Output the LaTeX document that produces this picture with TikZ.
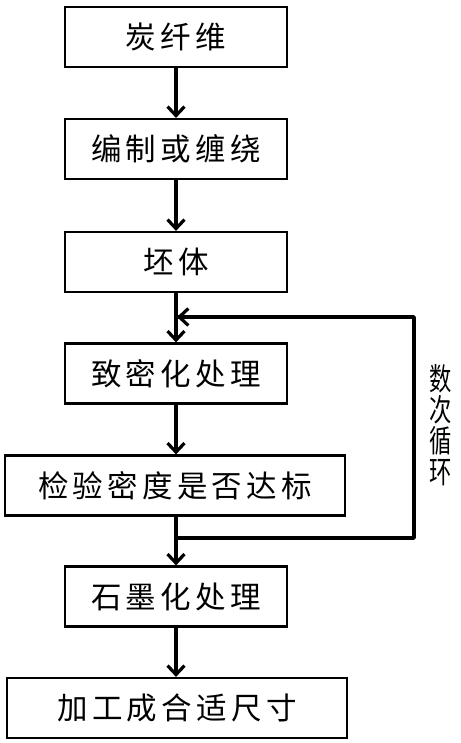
\documentclass[tikz,border=0pt]{standalone}
\usepackage{fontspec}
\usepackage{graphicx}
\newfontfamily\cjk[LetterSpace=14]{Noto Sans CJK SC}
\newfontfamily\cjkv{Noto Sans CJK SC}
\usetikzlibrary{arrows.meta}
\begin{document}
\begin{tikzpicture}[x=1pt,y=1pt,
  box/.style={draw=black,line width=2.2pt,minimum height=60pt,inner sep=0pt,
    font=\cjk\fontsize{30.5}{33}\selectfont},
  narrow/.style={box,minimum width=222pt},
  wide/.style={box,minimum width=340pt},
  flow/.style={line width=3.5pt,-{Straight Barb[length=9pt,width=17pt,line width=3.2pt]}},
  loop/.style={line width=3.5pt,line join=round}]
\useasboundingbox (0,0) rectangle (460,-743);
\node[narrow] (b1) at (176,-37) {炭纤维};
\node[narrow] (b2) at (176,-149) {编制或缠绕};
\node[narrow] (b3) at (176,-262) {坯体};
\node[narrow] (b4) at (176,-373.5) {致密化处理};
\node[wide] (b5) at (175,-485.5) {检验密度是否达标};
\node[narrow] (b6) at (176,-596.5) {石墨化处理};
\node[wide] (b7) at (177,-708) {加工成合适尺寸};
\coordinate (lb) at (176,-538);
\coordinate (lbr) at (414,-538);
\coordinate (ltr) at (414,-317);
\coordinate (ltl) at (177,-317);
\draw[flow] (b1.south) -- (b2.north);
\draw[flow] (b2.south) -- (b3.north);
\draw[flow] (b3.south) -- (b4.north -| b3.south);
\draw[flow] (b4.south) -- (b5.north -| b4.south);
\draw[flow] (b5.south -| b6.north) -- (b6.north);
\draw[flow] (b6.south) -- (b7.north -| b6.south);
\draw[loop] (lb) -- (lbr) -- (ltr) -- (ltl);
\draw[flow] (ltr) -- (ltl);
\node[font=\cjkv\fontsize{31}{31}\selectfont,align=center,inner sep=0pt] (lab) at (441,-425)
  {\scalebox{0.72}[1]{数}\\\scalebox{0.72}[1]{次}\\\scalebox{0.72}[1]{循}\\\scalebox{0.72}[1]{环}};
\end{tikzpicture}
\end{document}
